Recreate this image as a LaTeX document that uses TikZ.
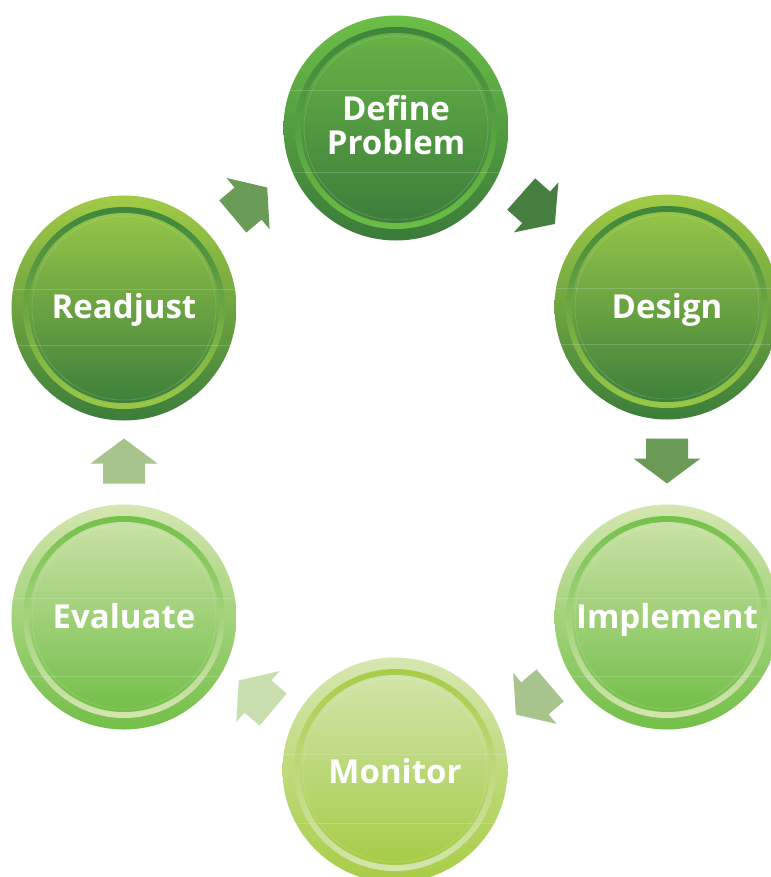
\documentclass[tikz,border=0pt]{standalone}
\usepackage{fontspec}
\newfontfamily\lblfont{Open Sans}
\usetikzlibrary{calc}
% colour sets: OT/OB outer top/bottom, RT/RB ring, IT/IB inner
\definecolor{dkOT}{HTML}{6CBF47}\definecolor{dkOB}{HTML}{3B7A3A}
\definecolor{dkRT}{HTML}{3E853C}\definecolor{dkRB}{HTML}{6CBE46}
\definecolor{dkIT}{HTML}{66B346}\definecolor{dkIB}{HTML}{3D7D3B}
\definecolor{ygOT}{HTML}{A2CB45}\definecolor{ygOB}{HTML}{3B7D3A}
\definecolor{ygRT}{HTML}{3E863C}\definecolor{ygRB}{HTML}{99C848}
\definecolor{ygIT}{HTML}{95C548}\definecolor{ygIB}{HTML}{3E803B}
\definecolor{ltOT}{HTML}{D4E6B0}\definecolor{ltOB}{HTML}{72BF47}
\definecolor{ltRT}{HTML}{74C04A}\definecolor{ltRB}{HTML}{D3E5AF}
\definecolor{ltIT}{HTML}{CAE1A6}\definecolor{ltIB}{HTML}{73BF48}
\definecolor{lyOT}{HTML}{D6E7B0}\definecolor{lyOB}{HTML}{A7CD46}
\definecolor{lyRT}{HTML}{A7CD48}\definecolor{lyRB}{HTML}{D3E5AE}
\definecolor{lyIT}{HTML}{D1E4AA}\definecolor{lyIB}{HTML}{A5CC46}
\definecolor{arA}{HTML}{467F3F}\definecolor{arB}{HTML}{6A9A56}
\definecolor{arC}{HTML}{A7C48D}\definecolor{arD}{HTML}{C8DEAE}
\definecolor{arE}{HTML}{A6C48B}\definecolor{arF}{HTML}{6A9B57}
\tikzset{
  lbl/.style={font=\lblfont\bfseries\fontsize{33bp}{34bp}\selectfont, text=white, inner sep=0pt, anchor=base},
  gloss/.style={white, opacity=0.18, line width=0.6bp},
}
% #1 name, #2 x, #3 y, #4 colour set, #5 #6 gloss line offsets
\newcommand\stagedisc[6]{%
  \node[circle, minimum size=225bp, inner sep=0pt, top color=#4OT, bottom color=#4OB] (#1) at (#2,#3) {};
  \path[top color=#4RT, bottom color=#4RB] (#1.center) circle[radius=101];
  \path[top color=#4IT, bottom color=#4IB] (#1.center) circle[radius=95];
  \draw[gloss] (#1.center) circle[radius=92];
  \begin{scope}
    \clip (#1.center) circle[radius=112.5];
    \draw[gloss] ($(#1.center)+(-113,#5)$) -- ($(#1.center)+(113,#5)$);
    \draw[gloss] ($(#1.center)+(-113,#6)$) -- ($(#1.center)+(113,#6)$);
  \end{scope}
}
% #1 name, #2 position, #3 text
\newcommand\stagetext[3]{%
  \node[lbl] (#1) at #2 {#3};
}
% #1 name, #2 x, #3 y, #4 angle, #5 colour
\newcommand\blockarrow[5]{%
  \coordinate (#1) at (#2,#3);
  \fill[#5, shift={(#1)}, rotate=#4] (-22.5,-21) -- (-2.5,-21) -- (-2.5,-33.5) -- (22.5,0)
       -- (-2.5,33.5) -- (-2.5,21) -- (-22.5,21) -- cycle;
}
\begin{document}
\begin{tikzpicture}[x=1bp, y=-1bp]
\useasboundingbox (0,0) rectangle (771,877);
\fill[white] (0,0) rectangle (771,877);
\begin{scope}
\clip (0,0) rectangle (771,877);
\stagedisc{def}{396}{128}{dk}{-38}{44}
\stagedisc{des}{667}{307}{yg}{-19}{37}
\stagedisc{imp}{667}{617}{lt}{-19}{59}
\stagedisc{mon}{395}{770}{ly}{-16}{53}
\stagedisc{eva}{124}{617}{lt}{-19}{59}
\stagedisc{rea}{124}{308}{yg}{-19}{37}

\blockarrow{a1}{538}{209}{-41.6}{arA}
\blockarrow{a2}{667}{461}{-90}{arB}
\blockarrow{a3}{533}{700}{-139.5}{arC}
\blockarrow{a4}{256}{695}{139.8}{arD}
\blockarrow{a5}{124}{461}{90}{arE}
\blockarrow{a6}{250}{202}{40}{arF}

\stagetext{t1}{($(def.center)+(0,-8)$)}{Define}
\stagetext{t2}{($(def.center)+(0,26)$)}{Problem}
\stagetext{t3}{($(des.center)+(0,11.5)$)}{Design}
\stagetext{t4}{($(imp.center)+(0,11.5)$)}{Implement}
\stagetext{t5}{($(mon.center)+(0,13)$)}{Monitor}
\stagetext{t6}{($(eva.center)+(0,11.5)$)}{Evaluate}
\stagetext{t7}{($(rea.center)+(0,10.5)$)}{Readjust}
\end{scope}
\end{tikzpicture}
\end{document}
